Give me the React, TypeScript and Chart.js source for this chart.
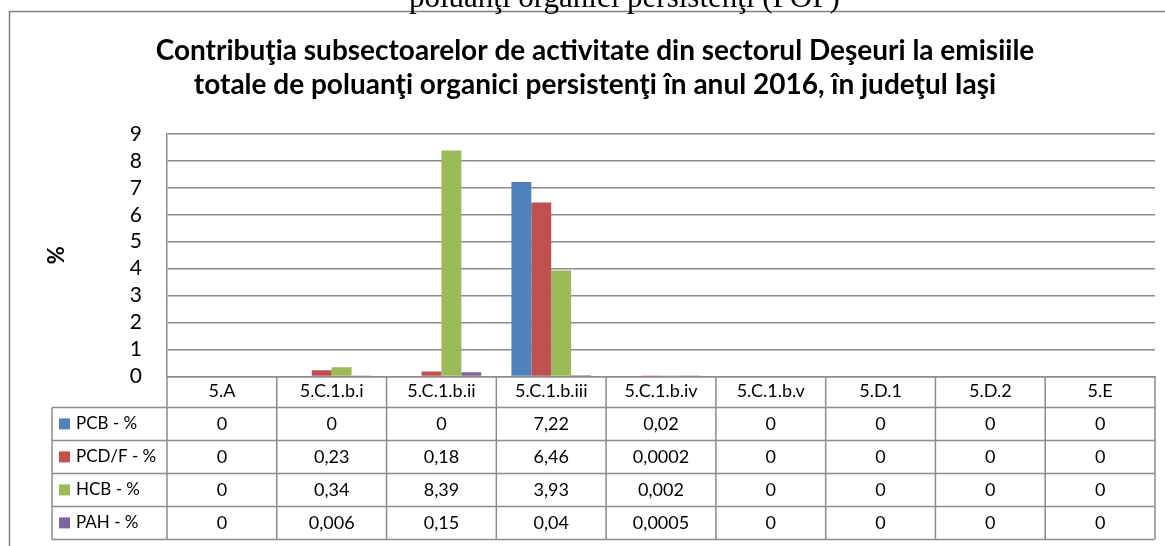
import { useEffect, useRef } from 'react';
import { Chart, registerables } from 'chart.js';

Chart.register(...registerables);

const categories = ['5.A', '5.C.1.b.i', '5.C.1.b.ii', '5.C.1.b.iii', '5.C.1.b.iv', '5.C.1.b.v', '5.D.1', '5.D.2', '5.E'];
const seriesNames = ['PCB - %', 'PCD/F - %', 'HCB - %', 'PAH - %'];
const pcbValues = [0, 0, 0, 7.22, 0.02, 0, 0, 0, 0];
const pcdfValues = [0, 0.23, 0.18, 6.46, 0.0002, 0, 0, 0, 0];
const hcbValues = [0, 0.34, 8.39, 3.93, 0.002, 0, 0, 0, 0];
const pahValues = [0, 0.006, 0.15, 0.04, 0.0005, 0, 0, 0, 0];
const seriesColors = ['#4F81BD', '#C0504D', '#9BBB59', '#8064A2'];
const yTickValues = [0, 1, 2, 3, 4, 5, 6, 7, 8, 9];
const titleLines = [
  'Contribuţia subsectoarelor de activitate din sectorul Deşeuri la emisiile',
  'totale de poluanţi organici persistenţi în anul 2016, în judeţul Iaşi',
];
const captionAbove = 'poluanţi organici persistenţi (POP)';
const yAxisTitle = '%';

const seriesValues = [pcbValues, pcdfValues, hcbValues, pahValues];
const fmt = (v: number) => String(v).replace('.', ',');

const LINE = '#8c8c8c';
const FONT = 'Lato';

const framePlugin = {
  id: 'frame',
  beforeDraw(chart: any) {
    const ctx = chart.ctx;
    ctx.save();
    ctx.fillStyle = '#ffffff';
    ctx.fillRect(0, 0, chart.width, chart.height);
    ctx.strokeStyle = '#808080';
    ctx.lineWidth = 1.5;
    ctx.beginPath();
    ctx.moveTo(9.5, chart.height);
    ctx.lineTo(9.5, 11.5);
    ctx.lineTo(chart.width, 11.5);
    ctx.stroke();
    ctx.fillStyle = '#000';
    ctx.font = "31px 'Liberation Serif'";
    ctx.textBaseline = 'alphabetic';
    ctx.textAlign = 'left';
    ctx.fillText(captionAbove, 409, 7);
    ctx.restore();
  },
};

const tablePlugin = {
  id: 'dataTable',
  afterDraw(chart: any) {
    const { ctx, chartArea: ca, scales } = chart;
    const x = scales.x;
    const n = categories.length;
    const colW = (ca.right - ca.left) / n;
    const headerBottom = ca.bottom + 31;
    const rowH = 33;
    const legendLeft = 52;
    const tableBottom = headerBottom + rowH * seriesNames.length;
    ctx.save();
    ctx.strokeStyle = LINE;
    ctx.lineWidth = 1.5;
    ctx.beginPath();
    for (let i = 0; i <= n; i++) {
      const px = i < n ? x.getPixelForValue(i) - colW / 2 : x.getPixelForValue(n - 1) + colW / 2;
      ctx.moveTo(px, ca.bottom);
      ctx.lineTo(px, tableBottom);
    }
    ctx.moveTo(legendLeft, headerBottom);
    ctx.lineTo(legendLeft, tableBottom);
    for (let r = 0; r <= seriesNames.length; r++) {
      const py = headerBottom + r * rowH;
      ctx.moveTo(legendLeft, py);
      ctx.lineTo(ca.right, py);
    }
    ctx.stroke();

    ctx.fillStyle = '#000';
    ctx.textBaseline = 'middle';
    seriesNames.forEach((name, r) => {
      const cy = headerBottom + r * rowH + rowH / 2;
      ctx.fillStyle = seriesColors[r];
      ctx.fillRect(legendLeft + 7, cy - 5.5, 11, 11);
      ctx.fillStyle = '#000';
      ctx.textAlign = 'left';
      ctx.font = `17px ${FONT}`;
      ctx.fillText(name, legendLeft + 24, cy);
      ctx.textAlign = 'center';
      ctx.font = `18px ${FONT}`;
      seriesValues[r].forEach((v, i) => {
        ctx.fillText(fmt(v), x.getPixelForValue(i), cy);
      });
    });
    ctx.restore();
  },
};

export default function App() {
  const ref = useRef<HTMLCanvasElement | null>(null);
  useEffect(() => {
    if (!ref.current) return;
    const chart = new Chart(ref.current, {
      type: 'bar',
      data: {
        labels: categories,
        datasets: seriesNames.map((name, i) => ({
          label: name,
          data: seriesValues[i],
          backgroundColor: seriesColors[i],
          borderWidth: 0,
          barPercentage: 1,
          categoryPercentage: 0.725,
        })),
      },
      options: {
        animation: false,
        responsive: false,
        devicePixelRatio: 1,
        layout: { padding: { left: 35, right: 10, top: 0, bottom: 140 } },
        plugins: {
          legend: { display: false },
          tooltip: { enabled: false },
          title: {
            display: true,
            text: titleLines,
            color: '#000',
            font: { family: FONT, size: 28, weight: 'bold', lineHeight: 1.214 },
            padding: { top: 34, bottom: 32 },
          },
        },
        scales: {
          x: {
            grid: { display: false, drawTicks: false },
            border: { display: true, color: LINE, width: 1.5 },
            ticks: {
              color: '#000',
              font: { family: FONT, size: 18 },
              padding: 4,
              maxRotation: 0,
              autoSkip: false,
            },
          },
          y: {
            min: 0,
            max: 9,
            afterBuildTicks: (scale: any) => {
              scale.ticks = yTickValues.map((v) => ({ value: v }));
            },
            afterFit: (scale: any) => {
              scale.width = 132;
            },
            grid: { color: LINE, lineWidth: 1.5, drawTicks: false },
            border: { display: true, color: LINE, width: 1.5 },
            ticks: {
              color: '#000',
              font: { family: FONT, size: 21 },
              padding: 25,
              autoSkip: false,
            },
            title: {
              display: true,
              text: yAxisTitle,
              color: '#000',
              font: { family: FONT, size: 22, weight: 'bold', lineHeight: 1.2 },
              padding: { top: 9, bottom: 0 },
            },
          },
        },
      },
      plugins: [framePlugin, tablePlugin],
    });
    return () => chart.destroy();
  }, []);
  return (
    <div style={{ position: 'fixed', left: 0, top: 0, width: 1165, height: 546, background: '#fff' }}>
      <canvas ref={ref} width={1165} height={546} style={{ display: 'block', width: 1165, height: 546 }} />
    </div>
  );
}
